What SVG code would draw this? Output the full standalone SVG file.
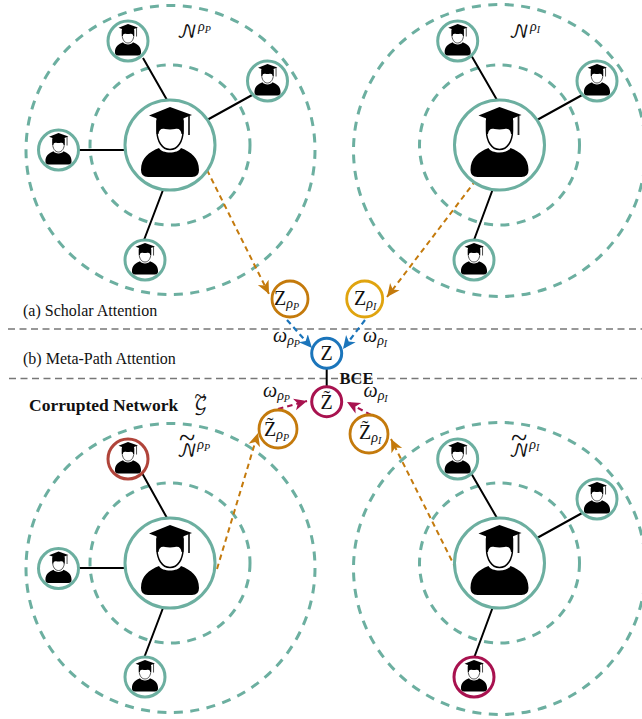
<svg xmlns="http://www.w3.org/2000/svg" width="642" height="719" viewBox="0 0 642 719">
<style>
.ring{fill:none;stroke:#6cafa0;stroke-width:3;stroke-dasharray:9 7.5}
.node{fill:#fff;stroke:#6cafa0;stroke-width:3}
.edge{stroke:#000;stroke-width:2;fill:none}
.sep{stroke:#777;stroke-width:1.7;stroke-dasharray:7 4.5;fill:none}
.orange{stroke:#c47a0c;stroke-width:2;stroke-dasharray:5.5 4;fill:none}
.blue{stroke:#1b75bb;stroke-width:2.2;stroke-dasharray:5.5 4;fill:none}
.red{stroke:#a8124f;stroke-width:2.2;stroke-dasharray:5.5 4;fill:none}
text{font-family:"Liberation Serif","Times New Roman",serif;fill:#111}
.cap{font-size:16px}
.b{font-weight:bold}
.m{font-size:20px}
.i{font-style:italic}
.cal{font-family:"DejaVu Math TeX Gyre","Liberation Serif",serif;font-style:normal;font-size:18px}
.s1{font-size:14px;font-style:italic}
.s2{font-size:10px;font-style:italic}
.t{font-family:"Liberation Serif",serif;font-style:normal;font-size:30px}
</style>
<defs>
<marker id="aO" markerUnits="userSpaceOnUse" markerWidth="14" markerHeight="14" refX="13" refY="6.5" orient="auto"><path d="M13,6.5 L0,0.5 L3.5,6.5 L0,12.5Z" fill="#c47a0c"/></marker>
<marker id="aB" markerUnits="userSpaceOnUse" markerWidth="14" markerHeight="14" refX="13" refY="6.5" orient="auto"><path d="M13,6.5 L0,0.5 L3.5,6.5 L0,12.5Z" fill="#1b75bb"/></marker>
<marker id="aR" markerUnits="userSpaceOnUse" markerWidth="14" markerHeight="14" refX="13" refY="6.5" orient="auto"><path d="M13,6.5 L0,0.5 L3.5,6.5 L0,12.5Z" fill="#a8124f"/></marker>
<g id="person">
<path d="M-29,25 C-29,13 -21,7 -11,3 C-8,9 8,9 11,3 C21,7 29,13 29,25 Q29,32 22,32 L-22,32 Q-29,32 -29,25Z" fill="#000"/>
<path d="M-13,-14 C-13,-4 -8,4.500 0,4.500 C8,4.500 13,-4 13,-14 L13,-24 L-13,-24Z" fill="#fff" stroke="#000" stroke-width="1.500"/>
<path d="M-13.500,-11 L-13.500,-27 L13.500,-27 L13.500,-11 L11.500,-11 C11,-15 9,-17 5,-16 C2,-15.500 -2,-15.500 -5,-16 C-9,-17 -11,-15 -11.500,-11Z" fill="#000"/>
<path d="M-21,-29.500 L0,-38 L22,-30 L0,-21.500Z" fill="#000"/>
<path d="M19,-29 V-10" stroke="#222" stroke-width="1.800" fill="none"/>
</g>
</defs>
<rect width="642" height="719" fill="#fff"/>

<g id="rings">
<circle class="ring" cx="170.5" cy="150" r="144.5"/>
<circle class="ring" cx="170" cy="145" r="80"/>
<circle class="ring" cx="499.5" cy="150.5" r="146"/>
<circle class="ring" cx="499.5" cy="145" r="80"/>
<circle class="ring" cx="170.500" cy="568" r="144.500"/>
<circle class="ring" cx="170" cy="563" r="80"/>
<circle class="ring" cx="499.500" cy="568.500" r="146"/>
<circle class="ring" cx="499.500" cy="563" r="80"/>
</g>

<g id="separators">
<path class="sep" d="M8,329H642"/>
<path class="sep" d="M9,378.500H642"/>
</g>

<g id="connectors">
<path class="edge" d="M143,58L167,100M207,120L254,94M78,150H125M163,190L144,240"/>
<path class="edge" d="M471,55L497,100M537,120L584,94M492.500,190L474,240"/>
<path class="edge" d="M142,473L167,518M78,568H125M163,608L144,658"/>
<path class="edge" d="M471,473L497,518M537,538L584,512M492.500,608L474,658"/>
<path class="edge" d="M326.700,369V386"/>
<path class="orange" marker-end="url(#aO)" d="M207,170L269,294"/>
<path class="orange" marker-end="url(#aO)" d="M476,180L387,297"/>
<path class="orange" marker-end="url(#aO)" d="M217,569L258,433"/>
<path class="orange" marker-end="url(#aO)" d="M456,569L391,439"/>
<path class="blue" marker-end="url(#aB)" d="M287,320L312,348"/>
<path class="blue" marker-end="url(#aB)" d="M365,320L343,349"/>
<path class="red" marker-end="url(#aR)" d="M278,409L307,401"/>
<path class="red" marker-end="url(#aR)" d="M371,415L347,402"/>
</g>

<g id="scholar-p-center"><circle class="node" cx="170" cy="145" r="45"/><use href="#person" transform="translate(170,145)"/></g>
<g id="scholar-p-1"><circle class="node" cx="128" cy="41" r="20"/><use href="#person" transform="translate(128,41) scale(.45)"/></g>
<g id="scholar-p-2"><circle class="node" cx="267.500" cy="81" r="20"/><use href="#person" transform="translate(267.500,81) scale(.45)"/></g>
<g id="scholar-p-3"><circle class="node" cx="58.500" cy="150" r="20"/><use href="#person" transform="translate(58.500,150) scale(.45)"/></g>
<g id="scholar-p-4"><circle class="node" cx="145" cy="260" r="20"/><use href="#person" transform="translate(145,260) scale(.45)"/></g>

<g id="scholar-i-center"><circle class="node" cx="499.500" cy="145" r="45"/><use href="#person" transform="translate(499.500,145)"/></g>
<g id="scholar-i-1"><circle class="node" cx="457.700" cy="41" r="20"/><use href="#person" transform="translate(457.700,41) scale(.45)"/></g>
<g id="scholar-i-2"><circle class="node" cx="597" cy="81" r="20"/><use href="#person" transform="translate(597,81) scale(.45)"/></g>
<g id="scholar-i-3"><circle class="node" cx="474" cy="260" r="20"/><use href="#person" transform="translate(474,260) scale(.45)"/></g>

<g id="corrupt-p-center"><circle class="node" cx="170" cy="563" r="45"/><use href="#person" transform="translate(170,563)"/></g>
<g id="corrupt-p-1"><circle class="node" style="stroke:#b0443a" cx="128" cy="459" r="20"/><use href="#person" transform="translate(128,459) scale(.45)"/></g>
<g id="corrupt-p-2"><circle class="node" cx="58.500" cy="568.500" r="20"/><use href="#person" transform="translate(58.500,568.500) scale(.45)"/></g>
<g id="corrupt-p-3"><circle class="node" cx="145" cy="677" r="20"/><use href="#person" transform="translate(145,677) scale(.45)"/></g>

<g id="corrupt-i-center"><circle class="node" cx="499.500" cy="563" r="45"/><use href="#person" transform="translate(499.500,563)"/></g>
<g id="corrupt-i-1"><circle class="node" cx="457.700" cy="459" r="20"/><use href="#person" transform="translate(457.700,459) scale(.45)"/></g>
<g id="corrupt-i-2"><circle class="node" cx="597" cy="499" r="20"/><use href="#person" transform="translate(597,499) scale(.45)"/></g>
<g id="corrupt-i-3"><circle class="node" style="stroke:#a8124f" cx="474" cy="677" r="20"/><use href="#person" transform="translate(474,677) scale(.45)"/></g>

<g id="z-p"><circle cx="290" cy="299" r="18" fill="#fff" stroke="#c47a0c" stroke-width="2.800"/>
<text class="m" x="274" y="304.500">Z<tspan class="s1" dy="3">ρ</tspan><tspan class="s2" dy="2">P</tspan></text></g>
<g id="z-i"><circle cx="364.700" cy="299" r="18" fill="#fff" stroke="#e0a40f" stroke-width="2.800"/>
<text class="m" x="354" y="304.500">Z<tspan class="s1" dy="3">ρ</tspan><tspan class="s2" dy="2">I</tspan></text></g>
<g id="z"><circle cx="326.700" cy="353.300" r="15" fill="#fff" stroke="#1b75bb" stroke-width="3"/>
<text class="m" x="326.700" y="360" text-anchor="middle">Z</text></g>
<g id="z-tilde"><circle cx="326.700" cy="401.700" r="15" fill="#fff" stroke="#a8124f" stroke-width="3"/>
<text class="m" x="326.700" y="409" text-anchor="middle">Z̃</text></g>
<g id="z-tilde-p"><circle cx="278" cy="429" r="19" fill="#fff" stroke="#c47a0c" stroke-width="2.800"/>
<text class="m" x="264" y="436">Z̃<tspan class="s1" dy="3">ρ</tspan><tspan class="s2" dy="2">P</tspan></text></g>
<g id="z-tilde-i"><circle cx="369" cy="434" r="19" fill="#fff" stroke="#c47a0c" stroke-width="2.800"/>
<text class="m" x="359" y="438.500">Z̃<tspan class="s1" dy="3">ρ</tspan><tspan class="s2" dy="2">I</tspan></text></g>

<g id="labels">
<text class="cap" x="23" y="315.500">(a) Scholar Attention</text>
<text class="cap" x="23" y="363.500">(b) Meta-Path Attention</text>
<text class="b" style="font-size:17.500px" x="29" y="411">Corrupted Network</text>
<text x="194" y="410"><tspan class="cal">𝒢</tspan><tspan class="t" style="font-size:20px" dx="-13" dy="-7">~</tspan></text>
<text class="b" style="font-size:16.500px" x="339.500" y="384">BCE</text>
<text x="177" y="38"><tspan class="cal">𝒩</tspan><tspan class="s1" dx="1" dy="-7">ρ</tspan><tspan class="s2" dy="2">P</tspan></text>
<text x="509" y="38"><tspan class="cal">𝒩</tspan><tspan class="s1" dx="1" dy="-7">ρ</tspan><tspan class="s2" dy="2">I</tspan></text>
<text x="177" y="457"><tspan class="cal">𝒩</tspan><tspan class="t" dx="-18" dy="-9">~</tspan><tspan class="s1" dx="2" dy="1">ρ</tspan><tspan class="s2" dy="2">P</tspan></text>
<text x="509" y="457"><tspan class="cal">𝒩</tspan><tspan class="t" dx="-18" dy="-9">~</tspan><tspan class="s1" dx="2" dy="1">ρ</tspan><tspan class="s2" dy="2">I</tspan></text>
<text class="m i" x="273" y="342">ω<tspan class="s1" dy="3">ρ</tspan><tspan class="s2" dy="2">P</tspan></text>
<text class="m i" x="363" y="342">ω<tspan class="s1" dy="3">ρ</tspan><tspan class="s2" dy="2">I</tspan></text>
<text class="m i" x="263" y="397">ω<tspan class="s1" dy="3">ρ</tspan><tspan class="s2" dy="2">P</tspan></text>
<text class="m i" x="363.500" y="397">ω<tspan class="s1" dy="3">ρ</tspan><tspan class="s2" dy="2">I</tspan></text>
</g>
</svg>
